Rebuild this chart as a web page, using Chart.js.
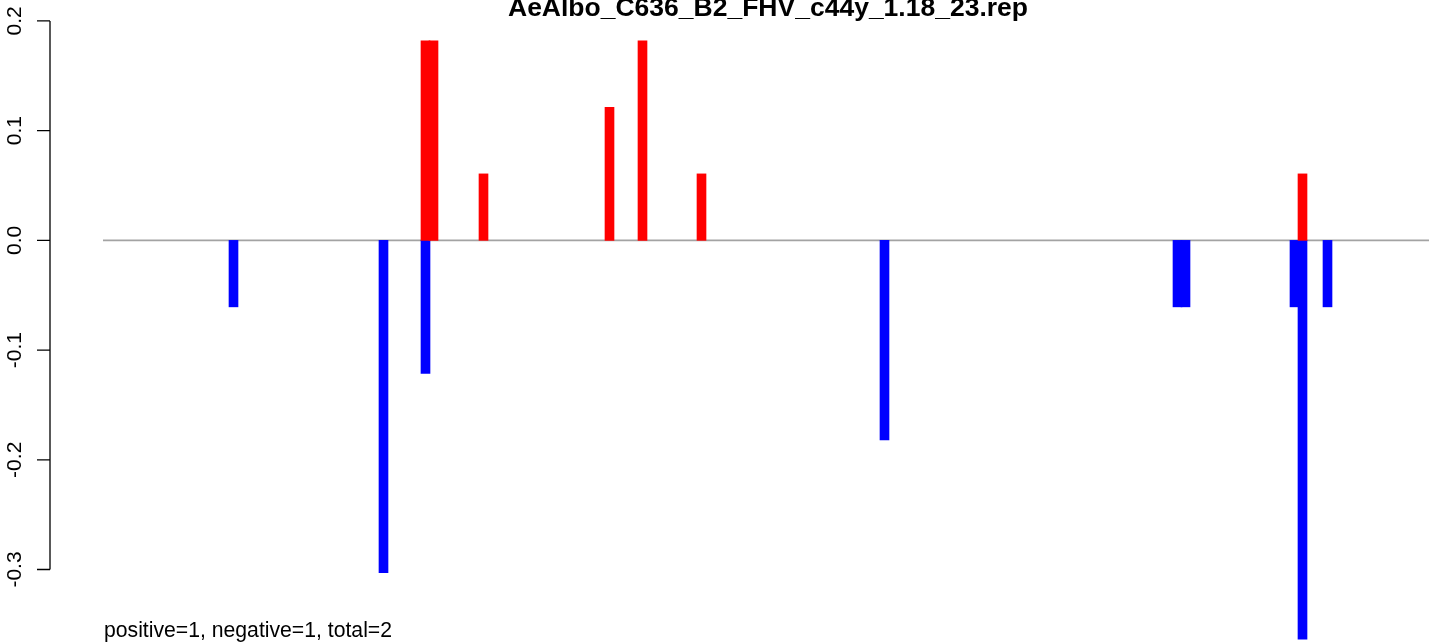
<!DOCTYPE html>
<html>
<head>
<meta charset="utf-8">
<script src="https://cdn.jsdelivr.net/npm/chart.js@4/dist/chart.umd.min.js"></script>
<style>
  html, body { margin: 0; padding: 0; background: #fff; }
  #wrap { width: 1429px; height: 643px; }
</style>
</head>
<body>
<div id="wrap"><canvas id="rep-chart" width="1429" height="643"></canvas></div>
<script>
// values
const chartTitle = "AeAlbo_C636_B2_FHV_c44y_1.18_23.rep";
const footNote = "positive=1, negative=1, total=2";

const posPositions = [375.5, 383.5, 433.5, 559.5, 592.5, 651.5, 1252.5];
const posValues = [0.1818, 0.1818, 0.0606, 0.1212, 0.1818, 0.0606, 0.0606];

const negPositions = [183.5, 333.5, 375.5, 834.5, 1127.5, 1135.5, 1244.5, 1252.5, 1277.5];
const negValues = [-0.0606, -0.3030, -0.1212, -0.1818, -0.0606, -0.0606, -0.0606, -0.3636, -0.0606];

const yTicks = [0.2, 0.1, 0.0, -0.1, -0.2, -0.3];
const yTickLabels = ["0.2", "0.1", "0.0", "-0.1", "-0.2", "-0.3"];

const xStart = 53;   // where the zero line begins
const xEnd = 1379;
const yMin = -0.367;
const yMax = 0.2036;

const FONT = "'Liberation Sans', Arial, Helvetica, sans-serif";

function toPoints(xs, ys) {
    return xs.map((x, i) => ({ x: x, y: ys[i] }));
}

// R-like axis, zero line and texts
const rDecor = {
    id: "rDecor",
    beforeDatasetsDraw(chart) {
        const ctx = chart.ctx;
        const xs = chart.scales.x;
        const ys = chart.scales.y;
        const y0 = ys.getPixelForValue(0);
        ctx.save();
        ctx.strokeStyle = "#a3a3a3";
        ctx.lineWidth = 1.6;
        ctx.beginPath();
        ctx.moveTo(xs.getPixelForValue(xStart), y0);
        ctx.lineTo(xs.getPixelForValue(xEnd), y0);
        ctx.stroke();
        ctx.restore();
    },
    afterDraw(chart) {
        const ctx = chart.ctx;
        const ys = chart.scales.y;
        const axisX = chart.chartArea.left;
        ctx.save();
        ctx.strokeStyle = "#000";
        ctx.lineWidth = 1.3;
        ctx.beginPath();
        ctx.moveTo(axisX, ys.getPixelForValue(yTicks[0]));
        ctx.lineTo(axisX, ys.getPixelForValue(yTicks[yTicks.length - 1]));
        yTicks.forEach(v => {
            const py = ys.getPixelForValue(v);
            ctx.moveTo(axisX - 13, py);
            ctx.lineTo(axisX, py);
        });
        ctx.stroke();

        ctx.fillStyle = "#000";
        ctx.font = "21px " + FONT;
        ctx.textAlign = "center";
        ctx.textBaseline = "alphabetic";
        yTicks.forEach((v, i) => {
            ctx.save();
            ctx.translate(21, ys.getPixelForValue(v));
            ctx.rotate(-Math.PI / 2);
            ctx.fillText(yTickLabels[i], 0, 0);
            ctx.restore();
        });

        ctx.font = "bold 26.5px " + FONT;
        ctx.textAlign = "center";
        ctx.fillText(chartTitle, 768, 16);

        ctx.font = "21.2px " + FONT;
        ctx.textAlign = "left";
        ctx.fillText(footNote, 104, 637);
        ctx.restore();
    }
};

new Chart(document.getElementById("rep-chart"), {
    type: "bar",
    data: {
        datasets: [
            {
                label: "positive",
                data: toPoints(posPositions, posValues),
                backgroundColor: "#ff0000",
                borderWidth: 0,
                barThickness: 9,
                grouped: false
            },
            {
                label: "negative",
                data: toPoints(negPositions, negValues),
                backgroundColor: "#0000ff",
                borderWidth: 0,
                barThickness: 9,
                grouped: false
            }
        ]
    },
    options: {
        responsive: false,
        animation: false,
        layout: { padding: { left: 50, top: 17, right: 0, bottom: 0 } },
        plugins: {
            legend: { display: false },
            tooltip: { enabled: false },
            title: { display: false }
        },
        scales: {
            x: {
                type: "linear",
                min: 0,
                max: xEnd,
                offset: false,
                display: false
            },
            y: {
                min: yMin,
                max: yMax,
                display: false
            }
        }
    },
    plugins: [rDecor]
});
</script>
</body>
</html>
